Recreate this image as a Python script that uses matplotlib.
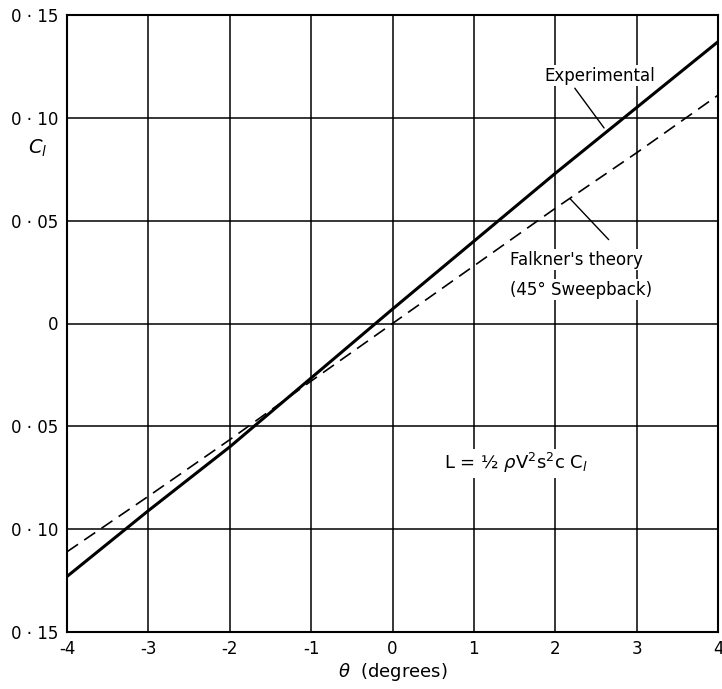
import matplotlib
matplotlib.use("Agg")
import matplotlib.pyplot as plt
import numpy as np

# Data
theta = [-4, -3, -2, -1, 0, 1, 2, 3, 4]
cl_experimental = [-0.123, -0.091, -0.060, -0.0265, 0.007, 0.040, 0.073, 0.105, 0.137]
cl_falkner = [-0.111, -0.084, -0.0565, -0.028, 0.0, 0.028, 0.056, 0.083, 0.111]

x_ticks = [-4, -3, -2, -1, 0, 1, 2, 3, 4]
x_tick_labels = ["-4", "-3", "-2", "-1", "0", "1", "2", "3", "4"]
y_ticks = [-0.15, -0.10, -0.05, 0.0, 0.05, 0.10, 0.15]
y_tick_labels = ["0 · 15", "0 · 10", "0 · 05", "0", "0 · 05", "0 · 10", "0 · 15"]

plt.rcParams['font.family'] = ['DejaVu Sans']
plt.rcParams['mathtext.fontset'] = 'dejavusans'

fig = plt.figure(figsize=(7.22, 6.89), dpi=100)
ax = fig.add_axes([67/722, 57/689, 651/722, 617/689])

ax.set_xlim(-4, 4)
ax.set_ylim(-0.15, 0.15)
ax.set_xticks(x_ticks)
ax.set_xticklabels(x_tick_labels)
ax.set_yticks(y_ticks)
ax.set_yticklabels(y_tick_labels)
ax.tick_params(length=0, labelsize=12, pad=6, colors='black')
ax.grid(True, color='black', linewidth=1.1)
ax.set_axisbelow(True)
for s in ax.spines.values():
    s.set_linewidth(1.5)
    s.set_color('black')

ax.plot(theta, cl_experimental, color='black', linewidth=2.2, solid_capstyle='butt')
ax.plot(theta, cl_falkner, color='black', linewidth=1.2, dashes=(8, 4.5))

ax.set_xlabel(r'$\theta$  (degrees)', fontsize=13, labelpad=2)
fig.text(38/722, 1 - 148/689, r'$C_l$', fontsize=14, ha='center', va='center')

# Annotations
ax.text(2.55, 0.1205, 'Experimental', fontsize=12, ha='center', va='center',
        bbox=dict(facecolor='white', edgecolor='none', pad=1))
ax.annotate('', xy=(2.62, 0.094), xytext=(2.22, 0.1155),
            arrowprops=dict(arrowstyle='-', color='black', lw=1.0))

ax.text(1.45, 0.031, "Falkner's theory", fontsize=12, ha='left', va='center',
        bbox=dict(facecolor='white', edgecolor='none', pad=1))
ax.text(1.45, 0.0165, "(45° Sweepback)", fontsize=12, ha='left', va='center',
        bbox=dict(facecolor='white', edgecolor='none', pad=1))
ax.annotate('', xy=(2.16, 0.0616), xytext=(2.68, 0.0398),
            arrowprops=dict(arrowstyle='-', color='black', lw=1.0))

ax.text(0.63, -0.068, r'L = ½ $\rho$V$^2$s$^2$c C$_l$', fontsize=13, ha='left', va='center',
        bbox=dict(facecolor='white', edgecolor='none', pad=2))

fig.savefig('out.png', dpi=100)
